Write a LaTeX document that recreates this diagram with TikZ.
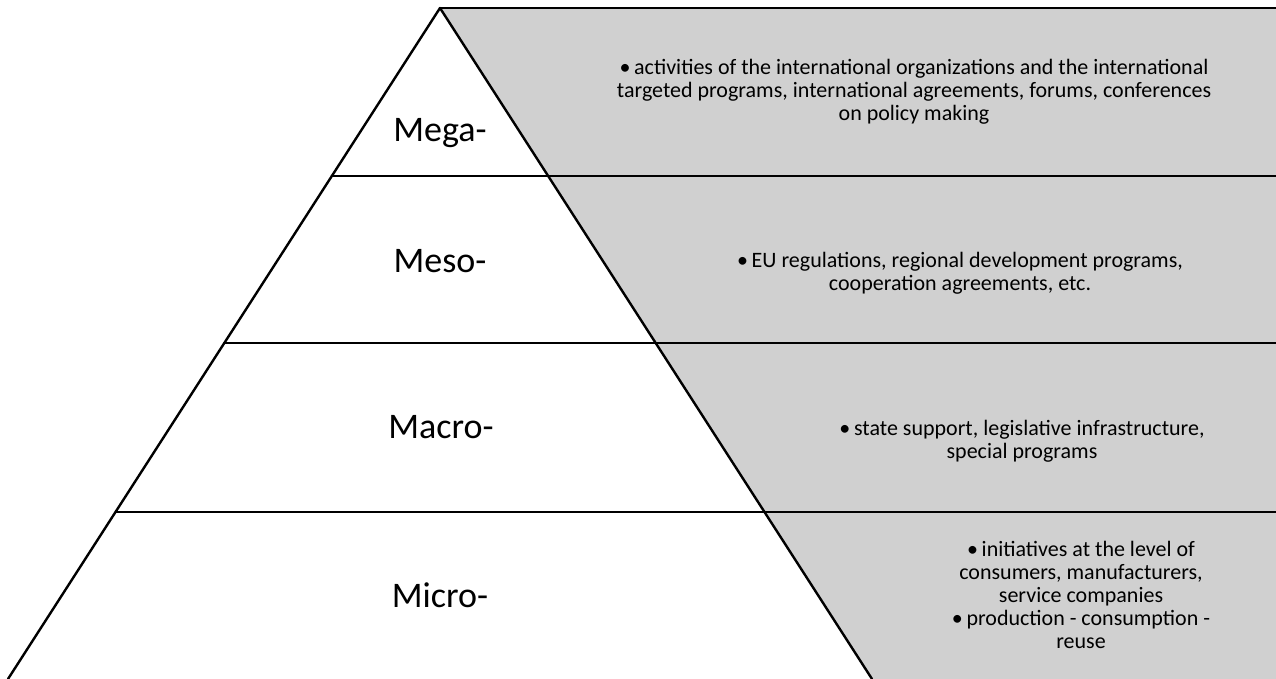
\documentclass[tikz,border=0pt]{standalone}
\usepackage{fontspec}
\setmainfont{Carlito}
\usetikzlibrary{positioning,calc}
\definecolor{panelgray}{RGB}{208,208,208}

\begin{document}
\begin{tikzpicture}[
		x=1pt, y=-1pt,
		edge/.style={line width=2.4pt, line cap=round, line join=round},
		level/.style={anchor=base, font=\fontsize{36}{40}\selectfont},
		note/.style={align=center, font=\fontsize{22}{23}\selectfont}]

	\useasboundingbox (0,0) rectangle (1276,679);

	% pyramid corners and the right margin
	\coordinate (apex) at (440,8);
	\coordinate (bl) at (8,679);
	\coordinate (br) at (872,679);
	\coordinate (rt) at (1276,8);
	\coordinate (rb) at (1276,679);

	\fill[panelgray] (apex) -- (rt) -- (rb) -- (br) -- cycle;

	% tier borders
	\coordinate (l1) at (331.8,176); \coordinate (r1) at (1276,176);
	\coordinate (l2) at (224.3,343); \coordinate (r2) at (1276,343);
	\coordinate (l3) at (115.5,512); \coordinate (r3) at (1276,512);

	\draw[edge] (apex) -- (rt);
	\draw[edge] (l1) -- (r1);
	\draw[edge] (l2) -- (r2);
	\draw[edge] (l3) -- (r3);
	\draw[edge] (bl) -- (apex) -- (br);

	\node[level] (mega)  at (440,142) {Mega-};
	\node[level] (meso)  at (440,272) {Meso-};
	\node[level] (macro) at (441,438) {Macro-};
	\node[level] (micro) at (440,607) {Micro-};

	\node[note] (megatxt) at (914,92) {\textbullet\,activities of the international organizations and the international\\
		targeted programs, international agreements, forums, conferences\\ on policy making};
	\node[note] (mesotxt) at (960,273) {\textbullet\,EU regulations, regional development programs,\\ cooperation agreements, etc.};
	\node[note] (macrotxt) at (1022,441) {\textbullet\,state support, legislative infrastructure,\\ special programs};
	\node[note] (microtxt) at (1081,595) {\textbullet\,initiatives at the level of\\ consumers, manufacturers,\\ service companies\\
		\textbullet\,production - consumption -\\ reuse};
\end{tikzpicture}
\end{document}
